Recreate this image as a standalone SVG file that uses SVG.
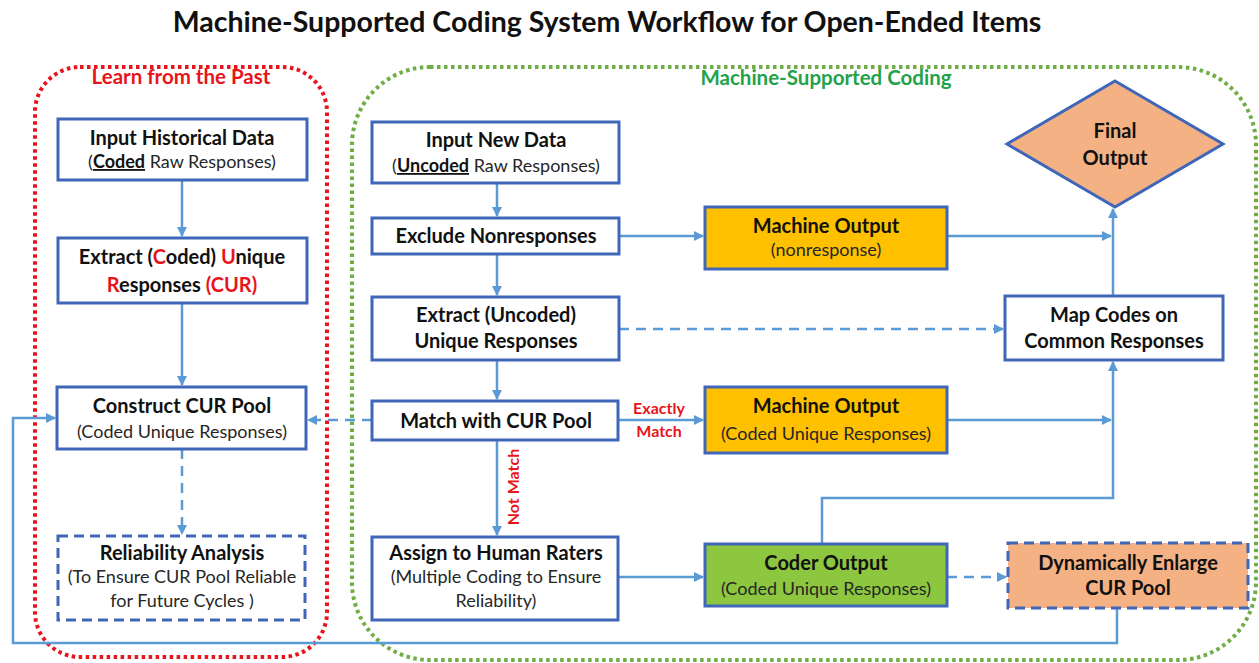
<svg xmlns="http://www.w3.org/2000/svg" width="1259" height="663" viewBox="0 0 1259 663">
  <style>
    .t { font-family: Lato, "Open Sans", "Liberation Sans", sans-serif; text-anchor: middle; fill: #111; }
    .b { font-weight: bold; font-size: 20px; }
    .s { font-size: 18px; fill: #262626; }
    .red { fill: #E8141C; }
    .box { fill: #fff; stroke: #3F66B8; stroke-width: 3; }
    .dbox { stroke-dasharray: 10 6; }
    .yellow { fill: #FFC000; }
    .green { fill: #8DC63F; }
    .peach { fill: #F4B183; }
    .conn { fill: none; stroke: #5B9BD5; stroke-width: 2.5; }
    .dash { stroke-dasharray: 10 7; }
    .lbl { font-family: Lato, "Open Sans", "Liberation Sans", sans-serif; font-weight: bold; font-size: 16px; fill: #E8141C; text-anchor: middle; }
  </style>
  <defs>
    <marker id="arrow" viewBox="0 0 10 10" refX="9" refY="5" markerWidth="4" markerHeight="4" orient="auto" markerUnits="strokeWidth">
      <path d="M0,0 L10,5 L0,10 z" fill="#5B9BD5"/>
    </marker>
  </defs>

  <rect width="1259" height="663" fill="#fff"/>

  <!-- title -->
  <text class="t" x="607" y="32" font-weight="bold" font-size="28.5">Machine-Supported Coding System Workflow for Open-Ended Items</text>

  <!-- phase containers -->
  <g id="learn-from-past">
    <rect x="35" y="67" width="292" height="590" rx="45" fill="none" stroke="#E8141C" stroke-width="4" stroke-dasharray="3.5 3.5"/>
    <text class="t red" x="181" y="84" font-weight="bold" font-size="20.5">Learn from the Past</text>
  </g>
  <g id="machine-supported">
    <rect x="352" y="67" width="904" height="593" rx="78" fill="none" stroke="#70AD47" stroke-width="4" stroke-dasharray="3.5 3.5"/>
    <text class="t" x="826" y="85" font-weight="bold" font-size="20.5" style="fill:#22A24A">Machine-Supported Coding</text>
  </g>

  <!-- connectors -->
  <g id="connectors">
    <path class="conn" d="M182,180 V236" marker-end="url(#arrow)"/>
    <path class="conn" d="M182,303 V385" marker-end="url(#arrow)"/>
    <path class="conn dash" d="M182,449 V534" marker-end="url(#arrow)"/>
    <path class="conn" d="M497,183 V216" marker-end="url(#arrow)"/>
    <path class="conn" d="M497,254 V295" marker-end="url(#arrow)"/>
    <path class="conn" d="M497,360 V399" marker-end="url(#arrow)"/>
    <path class="conn" d="M497,440 V535" marker-end="url(#arrow)"/>
    <path class="conn" d="M619,236 H703" marker-end="url(#arrow)"/>
    <path class="conn dash" d="M619,329 H1003" marker-end="url(#arrow)"/>
    <path class="conn" d="M618,420 H703" marker-end="url(#arrow)"/>
    <path class="conn dash" d="M372,420 H308" marker-end="url(#arrow)"/>
    <path class="conn" d="M618,577 H703" marker-end="url(#arrow)"/>
    <path class="conn" d="M947,236 H1111" marker-end="url(#arrow)"/>
    <path class="conn" d="M947,420 H1111" marker-end="url(#arrow)"/>
    <path class="conn" d="M1113,296 V209" marker-end="url(#arrow)"/>
    <path class="conn" d="M822,544 V498 H1113 V362" marker-end="url(#arrow)"/>
    <path class="conn dash" d="M947,577 H1006" marker-end="url(#arrow)"/>
    <path class="conn" d="M1117,608 V643 H13 V418 H55" marker-end="url(#arrow)"/>
    <text class="lbl" x="659" y="414">Exactly</text>
    <text class="lbl" x="659" y="437">Match</text>
    <text class="lbl" transform="translate(519,487) rotate(-90)">Not Match</text>
  </g>

  <!-- learn-from-the-past nodes -->
  <g id="input-historical">
    <rect class="box" x="58" y="119" width="249" height="61"/>
    <text class="t b" x="182" y="145">Input Historical Data</text>
    <text class="t s" x="182" y="168">(<tspan font-weight="bold" fill="#111" text-decoration="underline">Coded</tspan> Raw Responses)</text>
  </g>
  <g id="extract-coded">
    <rect class="box" x="58" y="238" width="249" height="65"/>
    <text class="t b" x="182" y="264">Extract (<tspan class="red">C</tspan>oded) <tspan class="red">U</tspan>nique</text>
    <text class="t b" x="182" y="292"><tspan class="red">R</tspan>esponses <tspan class="red">(CUR)</tspan></text>
  </g>
  <g id="construct-pool">
    <rect class="box" x="57" y="387" width="249" height="62"/>
    <text class="t b" x="182" y="413">Construct CUR Pool</text>
    <text class="t s" x="182" y="438">(Coded Unique Responses)</text>
  </g>
  <g id="reliability">
    <rect class="box dbox" x="58" y="536" width="247" height="84"/>
    <text class="t b" x="182" y="560">Reliability Analysis</text>
    <text class="t s" x="182" y="583">(To Ensure CUR Pool Reliable</text>
    <text class="t s" x="182" y="607">for Future Cycles )</text>
  </g>

  <!-- machine-supported coding nodes -->
  <g id="input-new">
    <rect class="box" x="372" y="122" width="247" height="61"/>
    <text class="t b" x="496" y="147">Input New Data</text>
    <text class="t s" x="496" y="172">(<tspan font-weight="bold" fill="#111" text-decoration="underline">Uncoded</tspan> Raw Responses)</text>
  </g>
  <g id="exclude">
    <rect class="box" x="372" y="218" width="247" height="36"/>
    <text class="t b" x="496" y="243">Exclude Nonresponses</text>
  </g>
  <g id="extract-uncoded">
    <rect class="box" x="372" y="297" width="247" height="63"/>
    <text class="t b" x="496" y="322">Extract (Uncoded)</text>
    <text class="t b" x="496" y="348">Unique Responses</text>
  </g>
  <g id="match">
    <rect class="box" x="372" y="401" width="246" height="39"/>
    <text class="t b" x="496" y="428">Match with CUR Pool</text>
  </g>
  <g id="assign-raters">
    <rect class="box" x="372" y="537" width="246" height="83"/>
    <text class="t b" x="496" y="560">Assign to Human Raters</text>
    <text class="t s" x="496" y="583">(Multiple Coding to Ensure</text>
    <text class="t s" x="496" y="607">Reliability)</text>
  </g>
  <g id="machine-output-nonresponse">
    <rect class="box yellow" x="705" y="207" width="242" height="62"/>
    <text class="t b" x="826" y="233">Machine Output</text>
    <text class="t s" x="826" y="256">(nonresponse)</text>
  </g>
  <g id="machine-output-cur">
    <rect class="box yellow" x="705" y="387" width="242" height="66"/>
    <text class="t b" x="826" y="413">Machine Output</text>
    <text class="t s" x="826" y="440">(Coded Unique Responses)</text>
  </g>
  <g id="coder-output">
    <rect class="box green" x="705" y="544" width="242" height="62"/>
    <text class="t b" x="826" y="570">Coder Output</text>
    <text class="t s" x="826" y="595">(Coded Unique Responses)</text>
  </g>
  <g id="final-output">
    <polygon class="box peach" points="1115,81 1223,144 1115,207 1007,144"/>
    <text class="t b" x="1115" y="138">Final</text>
    <text class="t b" x="1115" y="165">Output</text>
  </g>
  <g id="map-codes">
    <rect class="box" x="1005" y="296" width="218" height="64"/>
    <text class="t b" x="1114" y="322">Map Codes on</text>
    <text class="t b" x="1114" y="348">Common Responses</text>
  </g>
  <g id="enlarge-pool">
    <rect class="box dbox peach" x="1008" y="543" width="240" height="65"/>
    <text class="t b" x="1128" y="570">Dynamically Enlarge</text>
    <text class="t b" x="1128" y="595">CUR Pool</text>
  </g>
</svg>
